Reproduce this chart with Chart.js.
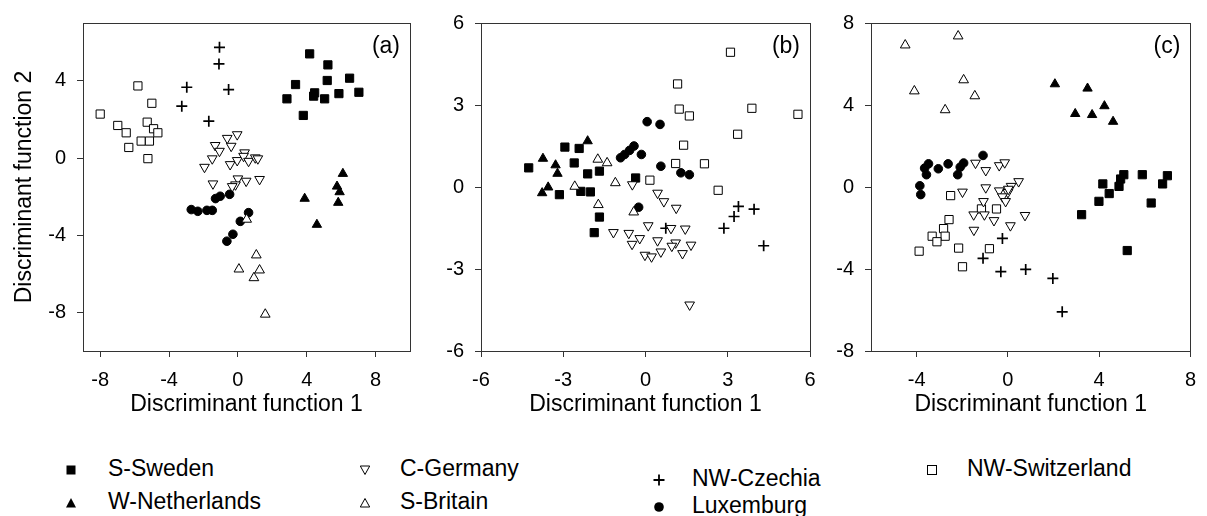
<!DOCTYPE html>
<html>
<head>
<meta charset="utf-8">
<script src="https://cdn.jsdelivr.net/npm/chart.js@4.4.1/dist/chart.umd.min.js"></script>
<style>
  html, body { margin: 0; padding: 0; background: #fff; }
  body { width: 1207px; height: 516px; position: relative; overflow: hidden; font-family: 'Liberation Sans', Arial, sans-serif; }
  canvas { position: absolute; top: 0; }
  .lg { position: absolute; font-size: 23px; line-height: 23px; color: #000; white-space: nowrap; }
  .sym { position: absolute; width: 12px; height: 12px; }
</style>
</head>
<body>
<canvas id="chartA" width="440" height="418" style="left:0"></canvas>
<canvas id="chartB" width="390" height="418" style="left:440px"></canvas>
<canvas id="chartC" width="377" height="418" style="left:830px"></canvas>
<div id="legend"></div>
<script>
const groups = ['S-Sweden', 'W-Netherlands', 'C-Germany', 'S-Britain', 'NW-Czechia', 'Luxemburg', 'NW-Switzerland'];

// panel (a)
const swedenA = [[4.17,5.40],[5.23,4.83],[3.35,3.81],[5.19,4.02],[6.49,4.14],[4.46,3.38],[4.40,3.21],[5.04,3.07],[5.87,3.34],[7.03,3.41],[2.85,3.07],[3.80,2.21]];
const nethA = [[6.10,-0.81],[5.76,-1.47],[5.91,-1.76],[3.88,-2.10],[5.83,-2.31],[4.59,-3.45]];
const germanyA = [[-0.04,1.22],[-0.62,1.03],[-0.39,0.62],[-1.32,0.66],[-1.07,0.36],[-1.49,-0.03],[-1.94,-0.47],[-0.45,-0.33],[-0.04,-0.12],[0.39,0.28],[0.33,0.10],[0.62,-0.16],[1.01,0.02],[1.16,-0.03],[0.00,-1.07],[0.48,-1.19],[1.26,-1.10],[-1.45,-1.33],[-0.14,-1.38],[-0.33,-1.47]];
const britainA = [[1.07,-5.03],[0.06,-5.76],[1.26,-5.81],[0.93,-6.21],[1.59,-8.10],[0.51,-3.18]];
const czechA = [[-1.07,5.74],[-1.10,4.88],[-2.97,3.67],[-0.54,3.55],[-3.26,2.69],[-1.69,1.91]];
const luxA = [[-2.71,-2.67],[-2.33,-2.76],[-1.80,-2.71],[-1.49,-2.71],[-1.30,-2.10],[-1.03,-1.98],[-0.48,-1.88],[0.62,-2.83],[0.14,-3.28],[-0.29,-3.95],[-0.64,-4.31]];
const swissA = [[-5.81,3.74],[-5.00,2.84],[-8.00,2.28],[-6.98,1.69],[-6.49,1.31],[-5.27,1.86],[-4.90,1.52],[-4.65,1.31],[-5.62,0.88],[-5.14,0.88],[-6.34,0.55],[-5.23,-0.03]];

// panel (b)
const swedenB = [[-4.26,0.70],[-2.94,1.46],[-2.42,1.41],[-2.60,0.88],[-2.11,0.48],[-1.68,0.58],[-3.14,-0.28],[-2.36,-0.16],[-2.01,-0.18],[-0.36,0.33],[-1.68,-1.10],[-1.87,-1.67]];
const nethB = [[-2.11,1.68],[-3.74,1.04],[-3.28,0.80],[-3.21,0.49],[-3.55,-0.01],[-3.77,-0.22]];
const germanyB = [[-0.48,0.09],[0.44,-0.22],[0.67,-0.53],[1.12,-0.77],[0.10,-1.41],[0.93,-1.51],[1.45,-1.53],[-1.17,-1.66],[-0.61,-1.69],[-0.21,-1.88],[-0.49,-2.09],[0.44,-1.96],[1.10,-2.04],[0.96,-2.16],[1.66,-2.12],[0.56,-2.37],[1.35,-2.43],[-0.02,-2.49],[0.22,-2.55],[1.61,-4.31]];
const britainB = [[-1.74,1.01],[-1.40,0.88],[-1.10,0.15],[-2.58,0.02],[-1.72,-0.65],[-0.43,-0.92]];
const czechB = [[3.39,-0.71],[3.96,-0.81],[3.23,-1.08],[2.86,-1.51],[4.31,-2.15],[0.74,-1.51]];
const luxB = [[0.06,2.39],[0.53,2.29],[-0.42,1.50],[-0.58,1.34],[-0.76,1.19],[-0.91,1.07],[-0.15,1.19],[0.56,0.76],[1.29,0.52],[1.60,0.45],[-0.25,-0.74]];
const swissB = [[3.10,4.93],[1.17,3.77],[1.23,2.85],[1.60,2.60],[3.88,2.88],[5.56,2.66],[3.36,1.93],[1.39,1.53],[1.10,0.86],[2.15,0.85],[0.16,0.25],[2.65,-0.12]];

// panel (c)
const swedenC = [[5.08,0.60],[5.89,0.60],[6.99,0.55],[4.94,0.39],[4.16,0.15],[4.87,0.03],[6.78,0.15],[4.44,-0.32],[3.99,-0.70],[6.28,-0.78],[3.23,-1.35],[5.23,-3.10]];
const nethC = [[2.06,5.02],[3.49,4.81],[4.23,3.95],[2.95,3.57],[3.69,3.52],[4.61,3.19]];
const germanyC = [[-1.42,1.17],[-0.97,0.81],[-0.38,1.05],[-0.14,1.19],[0.47,0.27],[0.14,0.04],[-0.38,-0.18],[0.00,-0.26],[-0.24,-0.47],[-0.10,-0.70],[-1.99,-0.24],[-0.97,-0.03],[-1.07,-0.70],[-1.50,-1.35],[-1.03,-1.35],[-0.61,-1.63],[0.11,-1.88],[0.75,-1.38],[-1.49,-2.10],[0.02,-0.10]];
const britainC = [[-4.50,6.92],[-2.18,7.36],[-4.10,4.68],[-1.94,5.22],[-1.45,4.44],[-2.75,3.76]];
const czechC = [[-0.24,-2.51],[-1.09,-3.48],[-0.31,-4.13],[0.78,-4.02],[1.97,-4.46],[2.38,-6.09]];
const luxC = [[-1.09,1.54],[-1.94,1.17],[-2.09,0.97],[-2.20,0.60],[-2.62,1.13],[-3.05,0.89],[-3.48,1.13],[-3.65,0.92],[-3.57,0.60],[-3.86,0.06],[-3.82,-0.37]];
const swissC = [[-2.51,-0.42],[-1.16,-1.07],[-0.50,-1.07],[-2.58,-1.59],[-2.82,-2.03],[-2.75,-2.40],[-3.32,-2.40],[-3.11,-2.67],[-3.89,-3.13],[-2.16,-2.98],[-0.81,-3.01],[-1.99,-3.89]];

// axis ranges and ticks
const rangeAX = [-9, 10], rangeAY = [-10, 7];
const rangeBX = [-6, 6], rangeBY = [-6, 6];
const rangeCX = [-6, 8], rangeCY = [-8, 8];
const ticksAX = [-8, -4, 0, 4, 8], ticksAY = [-8, -4, 0, 4];
const ticksBX = [-6, -3, 0, 3, 6], ticksBY = [-6, -3, 0, 3, 6];
const ticksCX = [-4, 0, 4, 8], ticksCY = [-8, -4, 0, 4, 8];

const FONT = "'Liberation Sans', Arial, sans-serif";
Chart.defaults.font.family = FONT;
Chart.defaults.color = '#000';

// marker look per group
const marks = {
    'S-Sweden':       { style: 'rect', r: 5.8, fill: '#000', rot: 0, bw: 1, svg: 'sqFill' },
    'W-Netherlands':  { style: 'triangle', r: 5.4, fill: '#000', rot: 0, bw: 1, svg: 'triFill' },
    'C-Germany':      { style: 'triangle', r: 5.6, fill: '#fff', rot: 180, bw: 1, svg: 'triDown' },
    'S-Britain':      { style: 'triangle', r: 5.6, fill: '#fff', rot: 0, bw: 1, svg: 'triOpen' },
    'NW-Czechia':     { style: 'cross', r: 5.5, fill: '#000', rot: 0, bw: 1.7, svg: 'cross' },
    'Luxemburg':      { style: 'circle', r: 4.3, fill: '#000', rot: 0, bw: 1, svg: 'circle' },
    'NW-Switzerland': { style: 'rect', r: 5.8, fill: '#fff', rot: 0, bw: 1, svg: 'sqOpen' }
};

// drawing order: open symbols first, filled on top
const drawOrder = ['C-Germany', 'S-Britain', 'NW-Switzerland', 'NW-Czechia', 'S-Sweden', 'W-Netherlands', 'Luxemburg'];

const boxAndLabel = {
    id: 'boxAndLabel',
    beforeDatasetsDraw(chart, args, opts) {
        const { ctx, chartArea: ca } = chart;
        ctx.save();
        ctx.strokeStyle = '#333';
        ctx.lineWidth = 1;
        ctx.strokeRect(Math.round(ca.left) + 0.5, Math.round(ca.top) + 0.5,
            Math.round(ca.right - ca.left), Math.round(ca.bottom - ca.top));
        ctx.font = '23px ' + FONT;
        ctx.fillStyle = '#000';
        ctx.textAlign = 'right';
        ctx.textBaseline = 'alphabetic';
        ctx.fillText(opts.text, ca.right - 10, ca.top + 30);
        ctx.restore();
    }
};

function makePanel(canvasId, sets, xr, yr, xt, yt, yWidth, padRight, label, yTitle) {
    const datasets = drawOrder.map(name => {
        const m = marks[name];
        return {
            label: name,
            data: sets[name].map(p => ({ x: p[0], y: p[1] })),
            pointStyle: m.style,
            pointRadius: m.r,
            pointRotation: m.rot,
            pointBackgroundColor: m.fill,
            pointBorderColor: '#000',
            pointBorderWidth: m.bw,
            showLine: false
        };
    });

    const tickOpts = { font: { size: 20 }, padding: 11, color: '#000' };
    const gridOpts = { drawOnChartArea: false, drawTicks: true, tickLength: 6, color: '#333', lineWidth: 1 };

    return new Chart(document.getElementById(canvasId), {
        type: 'scatter',
        data: { datasets },
        options: {
            responsive: false,
            animation: false,
            events: [],
            layout: { padding: { top: 23, right: padRight, bottom: 0, left: 0 } },
            plugins: {
                legend: { display: false },
                tooltip: { enabled: false },
                boxAndLabel: { text: label }
            },
            scales: {
                x: {
                    type: 'linear',
                    min: xr[0], max: xr[1],
                    afterBuildTicks: s => { s.ticks = xt.map(v => ({ value: v })); },
                    afterFit: s => { s.height = 67; },
                    ticks: tickOpts,
                    grid: gridOpts,
                    border: { display: false },
                    title: { display: true, text: 'Discriminant function 1', font: { size: 23 }, color: '#000', padding: { top: 0, bottom: 0 } }
                },
                y: {
                    type: 'linear',
                    min: yr[0], max: yr[1],
                    afterBuildTicks: s => { s.ticks = yt.map(v => ({ value: v })); },
                    afterFit: s => { s.width = yWidth; },
                    ticks: tickOpts,
                    grid: gridOpts,
                    border: { display: false },
                    title: { display: !!yTitle, text: yTitle || '', font: { size: 23 }, color: '#000', padding: { top: 11, bottom: 0 } }
                }
            }
        },
        plugins: [boxAndLabel]
    });
}

makePanel('chartA', {
    'S-Sweden': swedenA, 'W-Netherlands': nethA, 'C-Germany': germanyA, 'S-Britain': britainA,
    'NW-Czechia': czechA, 'Luxemburg': luxA, 'NW-Switzerland': swissA
}, rangeAX, rangeAY, ticksAX, ticksAY, 83, 30, '(a)', 'Discriminant function 2');

makePanel('chartB', {
    'S-Sweden': swedenB, 'W-Netherlands': nethB, 'C-Germany': germanyB, 'S-Britain': britainB,
    'NW-Czechia': czechB, 'Luxemburg': luxB, 'NW-Switzerland': swissB
}, rangeBX, rangeBY, ticksBX, ticksBY, 41, 20, '(b)', null);

makePanel('chartC', {
    'S-Sweden': swedenC, 'W-Netherlands': nethC, 'C-Germany': germanyC, 'S-Britain': britainC,
    'NW-Czechia': czechC, 'Luxemburg': luxC, 'NW-Switzerland': swissC
}, rangeCX, rangeCY, ticksCX, ticksCY, 41, 7, '(c)', null);

// legend below the panels
const svgShapes = {
    sqFill: '<rect x="1.5" y="1.5" width="9" height="9" fill="#000"/>',
    triFill: '<polygon points="6,1 11,10.5 1,10.5" fill="#000"/>',
    triDown: '<polygon points="1.3,2 10.7,2 6,10.5" fill="#fff" stroke="#000" stroke-width="1"/>',
    triOpen: '<polygon points="6,1.5 10.7,10 1.3,10" fill="#fff" stroke="#000" stroke-width="1"/>',
    cross: '<path d="M6 0.5V11.5M0.5 6H11.5" stroke="#000" stroke-width="1.8" fill="none"/>',
    circle: '<circle cx="6" cy="6" r="4.8" fill="#000"/>',
    sqOpen: '<rect x="1.5" y="1.5" width="9" height="9" fill="#fff" stroke="#000" stroke-width="1"/>'
};

// symbol centre x, text left x, text baseline y
const legendPos = {
    'S-Sweden':       [71, 108, 476],
    'W-Netherlands':  [71, 108, 509],
    'C-Germany':      [365, 400, 476],
    'S-Britain':      [365, 400, 509],
    'NW-Czechia':     [659, 692, 486],
    'Luxemburg':      [659, 692, 513],
    'NW-Switzerland': [932, 967, 476]
};

const legend = document.getElementById('legend');
groups.forEach(name => {
    const [sx, tx, base] = legendPos[name];
    const sym = document.createElement('div');
    sym.className = 'sym';
    sym.style.left = (sx - 6) + 'px';
    sym.style.top = (base - 8 - 6) + 'px';
    sym.innerHTML = '<svg width="12" height="12" viewBox="0 0 12 12">' + svgShapes[marks[name].svg] + '</svg>';
    legend.appendChild(sym);

    const txt = document.createElement('div');
    txt.className = 'lg';
    txt.style.left = tx + 'px';
    txt.style.top = (base - 19.4) + 'px';
    txt.textContent = name;
    legend.appendChild(txt);
});
</script>
</body>
</html>
